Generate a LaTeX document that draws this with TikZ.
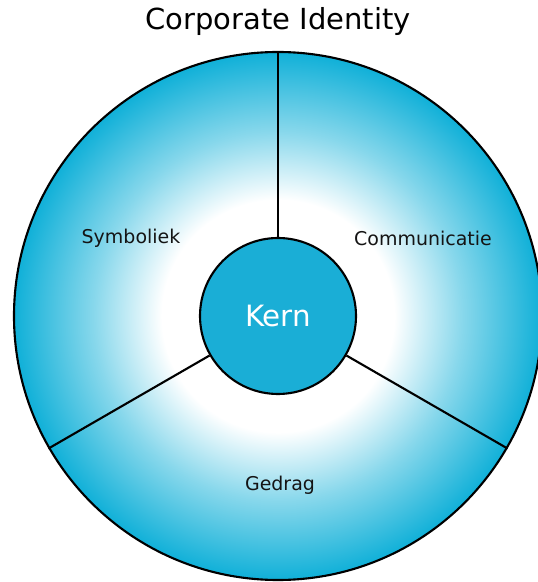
\documentclass[tikz,border=0pt]{standalone}
\usepackage{fontspec}
\setmainfont{DejaVu Sans}
\usepackage{xcolor}
\usepackage{tikz}
\usetikzlibrary{shapes,positioning,calc}

\definecolor{ringcyan}{RGB}{16,176,216}
\definecolor{kerncyan}{RGB}{26,174,214}
\definecolor{inkgray}{RGB}{20,20,20}
\pgfdeclareradialshading{ringshade}{\pgfpoint{0bp}{0bp}}{color(0bp)=(white); color(11bp)=(white); color(17.5bp)=(ringcyan!50!white); color(25bp)=(ringcyan); color(50bp)=(ringcyan)}

\tikzset{
    parttext/.style={text=inkgray, font=\fontsize{10.8}{12}\selectfont},
    divider/.style={line width=1.2pt}
}

\begin{document}
\begin{tikzpicture}
        \useasboundingbox (-5.56,-5.32) rectangle (5.18,6.32);
        % Title
        \node[text=black, font=\fontsize{16.5}{20}\selectfont] (title) at (0,5.88) {Corporate Identity};

        % Outer ring
        \node[circle, draw, line width=1.2pt, shading=ringshade, minimum size=10.56cm, inner sep=0pt] (ring) at (0,0) {};

        % Core
        \node[circle, draw, line width=1.2pt, fill=kerncyan, minimum size=3.12cm, inner sep=0pt, text=white, font=\fontsize{16.7}{20}\selectfont] (kern) at (0,0) {Kern};

        % Dividers
        \foreach \a in {90,210,330}
            \draw[divider] (kern.\a) -- (ring.\a);

        % Parts
        \node[parttext] (symboliek) at (-2.94,1.56) {Symboliek};
        \node[parttext] (communicatie) at (2.9,1.56) {Communicatie};
        \node[parttext] (gedrag) at (0.04,-3.38) {Gedrag};
    \end{tikzpicture}
\end{document}
